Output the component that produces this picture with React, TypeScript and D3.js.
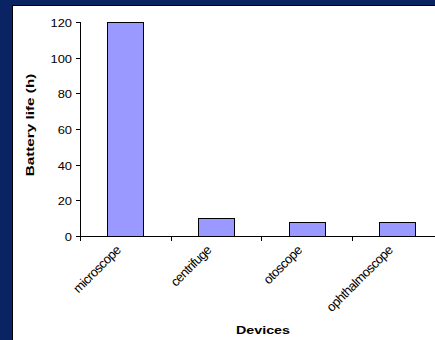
import React from "react";
import * as d3 from "d3";

// Battery life per device (hours)
const devices = ["microscope", "centrifuge", "otoscope", "ophthalmoscope"];
const batteryHours = [120, 10, 8, 8];
const yTicks = [0, 20, 40, 60, 80, 100, 120];

const W = 435;
const H = 340;
const FONT = "'Liberation Sans', Arial, sans-serif";

export default function App() {
  const x = d3.scaleBand<string>().domain(devices).range([80, 442.7]).padding(0);
  const y = d3.scaleLinear().domain([0, 120]).range([236, 22]);
  const barW = x.bandwidth() * 0.4;
  const boundaries = devices.map((d) => x(d) as number);

  return (
    <svg
      width={W}
      height={H}
      style={{ position: "absolute", left: 0, top: 0, display: "block" }}
      fontFamily={FONT}
    >
      <rect x={0} y={0} width={W} height={H} fill="#0a2463" />
      <rect x={12.5} y={5.5} width={W} height={H} fill="#ffffff" stroke="#000" strokeWidth={1} />

      {/* bars */}
      {devices.map((d, i) => {
        const cx = (x(d) as number) + x.bandwidth() / 2;
        return (
          <rect
            key={d}
            x={Math.round(cx - barW / 2) + 0.5}
            y={Math.round(y(batteryHours[i])) + 0.5}
            width={Math.round(barW)}
            height={Math.round(y(0)) - Math.round(y(batteryHours[i]))}
            fill="#9999ff"
            stroke="#000"
            strokeWidth={1}
          />
        );
      })}

      {/* y axis */}
      <line x1={80.5} x2={80.5} y1={y(120)} y2={y(0) + 0.5} stroke="#000" />
      {yTicks.map((t) => (
        <g key={t} transform={`translate(0,${Math.round(y(t)) + 0.5})`}>
          <line x1={76} x2={80.5} stroke="#000" />
          <text
            transform="translate(72,0) scale(1.12,1)"
            dy="0.36em"
            textAnchor="end"
            fontSize={11.5}
            fill="#000"
          >
            {t}
          </text>
        </g>
      ))}

      {/* x axis */}
      <line x1={80} x2={W} y1={Math.round(y(0)) + 0.5} y2={Math.round(y(0)) + 0.5} stroke="#000" />
      {boundaries.map((bx, i) => (
        <line
          key={i}
          x1={Math.round(bx) + 0.5}
          x2={Math.round(bx) + 0.5}
          y1={y(0)}
          y2={y(0) + 5}
          stroke="#000"
        />
      ))}
      {devices.map((d) => {
        const cx = (x(d) as number) + x.bandwidth() / 2;
        return (
          <text
            key={d}
            transform={`translate(${cx - 4},251) rotate(-45)`}
            textAnchor="end"
            fontSize={13}
            letterSpacing={-0.6}
            fill="#000"
          >
            {d}
          </text>
        );
      })}

      {/* axis titles */}
      <text
        transform="translate(263,334) scale(1.3,1)"
        textAnchor="middle"
        fontSize={11}
        fontWeight="bold"
        fill="#000"
      >
        Devices
      </text>
      <text
        transform="translate(34,125) rotate(-90) scale(1.33,1)"
        textAnchor="middle"
        fontSize={11.5}
        fontWeight="bold"
        fill="#000"
      >
        Battery life (h)
      </text>
    </svg>
  );
}
